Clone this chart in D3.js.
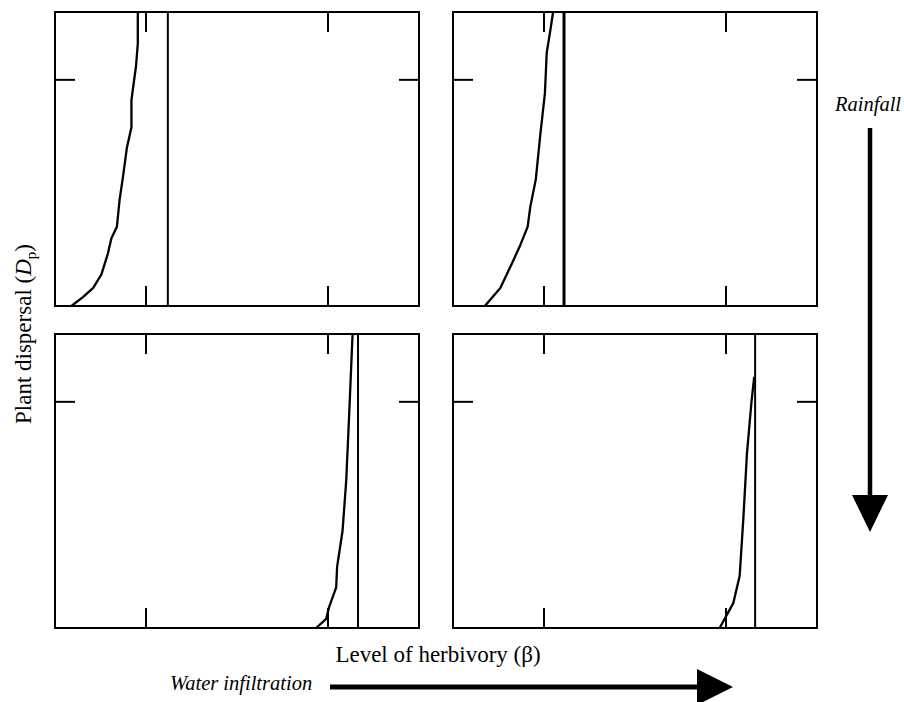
<!DOCTYPE html>
<html lang="en">
<head>
<meta charset="UTF-8">
<title>Plant dispersal vs level of herbivory</title>
<style>
  body { margin: 0; background: #fff; }
  svg text { font-family: "Liberation Serif", "Times New Roman", serif; fill: #000; }
  .frame { fill: none; stroke: #000; stroke-width: 2px; }
  .tick, .vline { stroke: #000; stroke-width: 2px; }
  .curve { fill: none; stroke: #000; stroke-width: 2.3px; stroke-linejoin: round; }
</style>
</head>
<body>
<script src="https://cdn.jsdelivr.net/npm/d3@7"></script>
<script>
const width = 904, height = 702;
const xTicks = [1, 3];
const yTicks = [1];
const xDomain = [0, 4], yDomain = [0, 1.3];

// herbivory threshold (vertical line) per panel: top-left, top-right, bottom-left, bottom-right
const thresholds = [1.24, 1.22, 3.33, 3.32];

// [beta, Dp]
const curveTopLeft = [
  [0.18, 0], [0.31, 0.04], [0.42, 0.08], [0.51, 0.14], [0.58, 0.23], [0.62, 0.30],
  [0.68, 0.35], [0.71, 0.47], [0.75, 0.58], [0.79, 0.70], [0.84, 0.79], [0.84, 0.91],
  [0.89, 1.06], [0.91, 1.16], [0.91, 1.3]
];
const curveTopRight = [
  [0.35, 0], [0.52, 0.08], [0.65, 0.19], [0.74, 0.27], [0.82, 0.35], [0.85, 0.44],
  [0.91, 0.56], [0.96, 0.76], [1.01, 0.94], [1.03, 1.12], [1.07, 1.22], [1.10, 1.3]
];
const curveBottomLeft = [
  [2.87, 0], [2.98, 0.04], [3.01, 0.09], [3.09, 0.18], [3.10, 0.27], [3.16, 0.43],
  [3.20, 0.65], [3.23, 0.92], [3.27, 1.3]
];
const curveBottomRight = [
  [2.93, 0], [3.08, 0.11], [3.15, 0.23], [3.19, 0.48], [3.23, 0.77], [3.28, 1.0], [3.31, 1.11]
];
const curves = [curveTopLeft, curveTopRight, curveBottomLeft, curveBottomRight];

const xLabel = 'Level of herbivory (β)';
const xArrowLabel = 'Water infiltration';
const yArrowLabel = 'Rainfall';

// layout
const panelW = 364, panelH = 294, tickLen = 20;
const colX = [55, 453], rowY = [12, 334];

const svg = d3.select('body').append('svg')
  .attr('width', width).attr('height', height);

curves.forEach(function(pts, i){
  const px = colX[i % 2], py = rowY[Math.floor(i / 2)];
  const x = d3.scaleLinear().domain(xDomain).range([0, panelW]);
  const y = d3.scaleLinear().domain(yDomain).range([panelH, 0]);
  const g = svg.append('g').attr('transform', `translate(${px},${py})`);

  // inward ticks on all four sides
  g.selectAll('line.xt-bottom').data(xTicks).enter().append('line')
    .attr('class', 'tick')
    .attr('x1', d => x(d)).attr('x2', d => x(d))
    .attr('y1', panelH).attr('y2', panelH - tickLen);
  g.selectAll('line.xt-top').data(xTicks).enter().append('line')
    .attr('class', 'tick')
    .attr('x1', d => x(d)).attr('x2', d => x(d))
    .attr('y1', 0).attr('y2', tickLen);
  g.selectAll('line.yt-left').data(yTicks).enter().append('line')
    .attr('class', 'tick')
    .attr('x1', 0).attr('x2', tickLen)
    .attr('y1', d => y(d)).attr('y2', d => y(d));
  g.selectAll('line.yt-right').data(yTicks).enter().append('line')
    .attr('class', 'tick')
    .attr('x1', panelW).attr('x2', panelW - tickLen)
    .attr('y1', d => y(d)).attr('y2', d => y(d));

  g.append('line').attr('class', 'vline')
    .attr('x1', x(thresholds[i])).attr('x2', x(thresholds[i]))
    .attr('y1', 0).attr('y2', panelH)
    .style('stroke-width', i === 1 ? 3 : 2);

  const line = d3.line().curve(d3.curveLinear).x(d => x(d[0])).y(d => y(d[1]));
  g.append('path').attr('class', 'curve').attr('d', line(pts));

  g.append('rect').attr('class', 'frame')
    .attr('x', 0).attr('y', 0).attr('width', panelW).attr('height', panelH);
});

// axis labels
svg.append('text')
  .attr('x', 438).attr('y', 662)
  .attr('text-anchor', 'middle')
  .style('font-size', '23px')
  .text(xLabel);

const yl = svg.append('text')
  .attr('transform', 'translate(31,334) rotate(-90)')
  .attr('text-anchor', 'middle')
  .style('font-size', '23px');
yl.append('tspan').text('Plant dispersal (');
yl.append('tspan').style('font-style', 'italic').text('D');
yl.append('tspan').attr('dy', 5).style('font-size', '15px').text('p');
yl.append('tspan').attr('dy', -5).text(')');

// water infiltration arrow
svg.append('text')
  .attr('x', 170).attr('y', 690)
  .style('font-size', '20.5px').style('font-style', 'italic')
  .text(xArrowLabel);
svg.append('line')
  .attr('x1', 330).attr('x2', 700).attr('y1', 687).attr('y2', 687)
  .attr('stroke', '#000').attr('stroke-width', 5);
svg.append('path')
  .attr('d', 'M697,669 L733,687 L697,705 Z').attr('fill', '#000');

// rainfall arrow
svg.append('text')
  .attr('x', 835).attr('y', 111)
  .style('font-size', '20.5px').style('font-style', 'italic')
  .text(yArrowLabel);
svg.append('line')
  .attr('x1', 870).attr('x2', 870).attr('y1', 128).attr('y2', 498)
  .attr('stroke', '#000').attr('stroke-width', 4.5);
svg.append('path')
  .attr('d', 'M852,495 L888,495 L870,532 Z').attr('fill', '#000');
</script>
</body>
</html>
